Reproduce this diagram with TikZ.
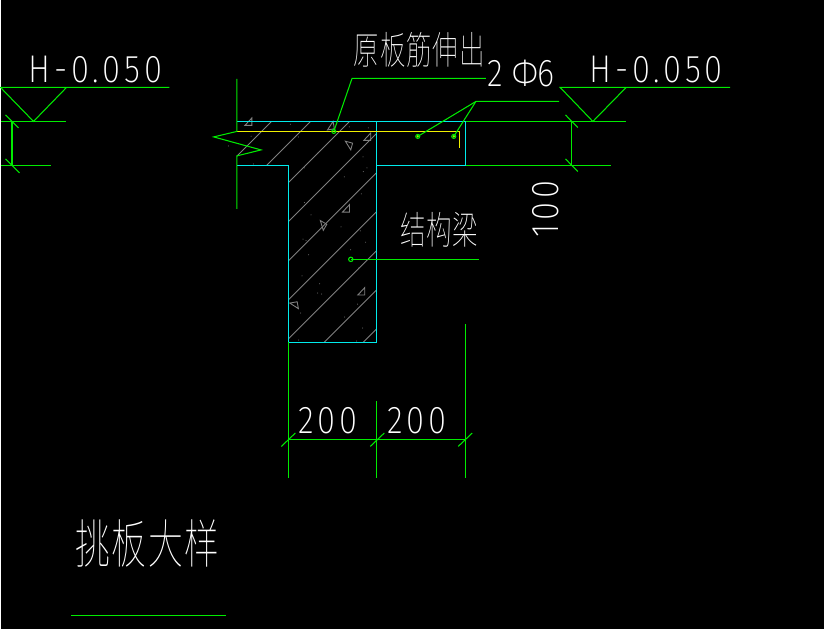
\documentclass[tikz,border=0pt]{standalone}
\usepackage{fontspec}
\newfontfamily\cadfont[UprightFont=* ExtraLight,FakeStretch=0.85,LetterSpace=10]{Fira Sans}
\newfontfamily\barfont[UprightFont=* ExtraLight,FakeStretch=0.85,LetterSpace=0]{Fira Sans}
\newfontfamily\cjkfont[UprightFont=* Thin,FakeStretch=0.66,LetterSpace=2.5]{Noto Sans CJK SC}
\tikzset{>=stealth}
\usetikzlibrary{positioning}
\definecolor{cadgreen}{RGB}{0,235,0}
\definecolor{cadcyan}{RGB}{0,235,235}
\definecolor{cadyellow}{RGB}{240,240,0}
\definecolor{cadgrey}{RGB}{128,128,128}
\tikzset{
  dimline/.style={cadgreen,line width=.6pt},
  outline/.style={cadcyan,line width=.6pt},
  rebar/.style={cadyellow,line width=.6pt},
  hatchline/.style={cadgrey,line width=.5pt},
  caddim/.style={white,inner sep=0pt,font=\cadfont\fontsize{22}{22}\selectfont},
  cadtext/.style={white,inner sep=0pt,font=\cjkfont\fontsize{22}{22}\selectfont},
}
\begin{document}
\begin{tikzpicture}[x=.02cm,y=-.02cm]
        \fill[black] (0,0) rectangle (824,629);
        % beam and slab
        \coordinate (A) at (236.5,121.5);
        \coordinate (B) at (376.5,121.5);
        \coordinate (C) at (376.5,342.5);
        \coordinate (D) at (288.5,342.5);
        \coordinate (E) at (288.5,165.5);
        \coordinate (F) at (236.5,165.5);
        \coordinate (G) at (465.5,121.5);
        \coordinate (H) at (465.5,165.5);
        \coordinate (I) at (376.5,165.5);
        % hatching
        \begin{scope}
          \clip (A)--(B)--(C)--(D)--(E)--(F)--cycle;
          \foreach \c in {392.6,431.7,470.8,509.9,549,588.1,627.2,666.3,705.4}
            \draw[hatchline] (\c-400,400)--(\c-100,100);
        \end{scope}
        \foreach \x/\y in {290/124.3,250.7/136.3,228/146,298/137,349/127,368/128,318/152.7,304/168,253/164,344/177,362.7/157,366.7/168,363/171.7,361/194,304/202.7,310.7/215,340.7/227,302.7/239.3,305.7/240.7,360/231,365.3/242.3,350.3/250,308.3/255,358.3/268.3,301.7/276,319.3/284,317.3/293.3,321.3/294.3,357.3/304.3,300.3/313.3,344.3/317.3,362.3/328.3,298.3/340.3,356.3/341.3}
          \fill[cadgrey] (\x,\y) circle (.5);
        \foreach \x/\y/\r in {330/126/10,367/137/0,348/145.7/75,345.7/208.7/0,321.7/225.7/60,361/291.7/0,294/306/100,248/122/0}
          \draw[hatchline,rotate around={\r:(\x,\y)}] (\x-3.5,\y+3.5)--(\x+3.5,\y+3.5)--(\x+3.5,\y-4)--cycle;
        \draw[outline] (G)--(A);
        \draw[outline] (F)--(E)--(D)--(C)--(B)--(G)--(H)--(I);
        % rebar
        \coordinate (R1) at (236.5,131.5);
        \coordinate (R2) at (459.5,131.5);
        \coordinate (R3) at (459.5,148.5);
        \draw[rebar] (R1)--(R2)--(R3);
        % break line
        \coordinate (P) at (236.5,79);
        \coordinate (Q) at (236.5,209);
        \draw[dimline] (P)--(R1)--(213.3,137)--(260.7,150)--(236.5,156)--(Q);
        % rebar marks and leaders
        \coordinate (a) at (333.5,131.5);
        \coordinate (b) at (417.5,136.5);
        \coordinate (c) at (453.5,136.5);
        \coordinate (d) at (350.5,259.5);
        \fill[cadyellow] (b) circle (1.2) (c) circle (1.2);
        \draw[dimline] (b) circle (2) (c) circle (2) (a) circle (2) (d) circle (2.2);
        \draw[dimline] (a)--(351.7,78.5)--(485.7,78.5);
        \draw[dimline] (b)--(475.7,101.5)--(559,101.5);
        \draw[dimline] (c)--(475.7,101.5);
        \draw[dimline] (d)--(479,259.5);
        % level marks
        \draw[dimline] (G)--(626,121.5);
        \draw[dimline] (H)--(611,165.5);
        \draw[dimline] (730,87.5)--(560,87.5)--(592.7,121.5)--(626,87.5);
        \draw[dimline] (571.5,121.5)--(571.5,165.5);
        \draw[dimline] (565.3,115)--(577.7,127.7);
        \draw[dimline] (565.3,159)--(577.7,171.7);
        \draw[dimline] (169,87.5)--(0,87.5)--(33,121.5)--(66,87.5);
        \draw[dimline] (0,121.5)--(66,121.5);
        \draw[dimline] (0,165.5)--(51,165.5);
        \draw[dimline] (11.5,121.5)--(11.5,165.5);
        \draw[dimline] (5,115)--(18,128);
        \draw[dimline] (5,159)--(19,173);
        % bottom dimensions
        \draw[dimline] (D)--(288.5,478.7);
        \draw[dimline] (376.5,401)--(376.5,478.7);
        \draw[dimline] (465.5,324)--(465.5,478.7);
        \draw[dimline] (288.5,439.5)--(465.5,439.5);
        \draw[dimline] (281,446.7)--(295,433.3);
        \draw[dimline] (370,446.7)--(384,433.3);
        \draw[dimline] (458,446.7)--(472,433.3);
        \coordinate (U) at (71,615.5);
        \coordinate (V) at (226,615.5);
        \draw[dimline] (U)--(V);
        % labels
        \node[caddim] (levelL) at (95,69.5) {H-0.050};
        \node[caddim] (levelR) at (656,69.5) {H-0.050};
        \node[caddim,font=\barfont\fontsize{22}{22}\selectfont] (bar) at (521,73.5) {2 Φ6};
        \node[caddim,rotate=90] (slab) at (545.5,209.5) {100};
        \node[caddim] (widthL) at (327.5,421) {200};
        \node[caddim] (widthR) at (416.5,421) {200};
        \node[cadtext] (extend) at (419,49.5) {原板筋伸出};
        \node[cadtext] (beam) at (439,230) {结构梁};
        \node[cadtext,font=\cjkfont\fontsize{30}{30}\selectfont] (title) at (147,544) {挑板大样};
\end{tikzpicture}
\end{document}
